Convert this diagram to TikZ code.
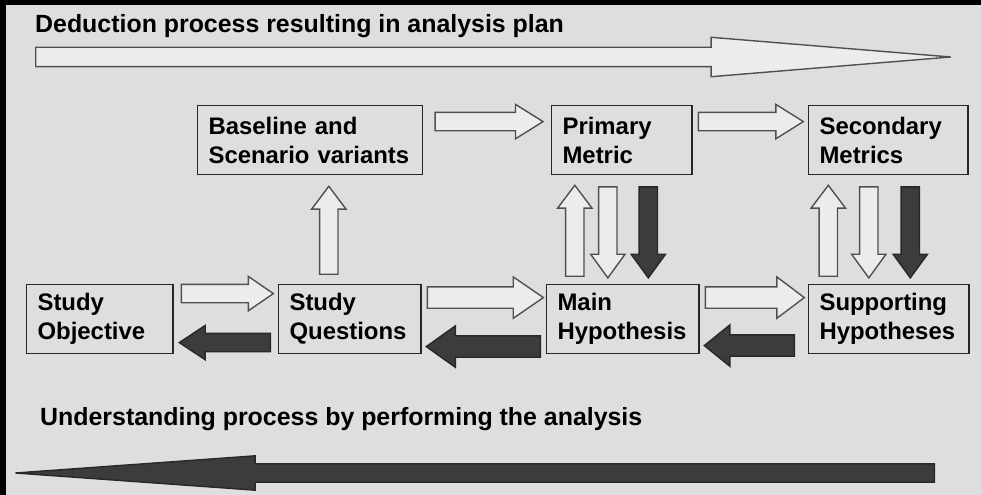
\documentclass[tikz,border=0pt]{standalone}
\usepackage{fontspec}
\setmainfont{Liberation Sans}
\usepackage{tikz}
\usetikzlibrary{shapes.arrows, positioning}

\definecolor{bg}{RGB}{222,222,222}
\definecolor{light}{RGB}{236,236,236}
\definecolor{lightedge}{RGB}{80,80,80}
\definecolor{dark}{RGB}{60,60,60}
\definecolor{darkedge}{RGB}{40,40,40}
\newcommand{\boxfont}{\fontsize{24}{29}\selectfont\bfseries}
\newcommand{\headfont}{\fontsize{25}{30}\selectfont\bfseries}

\begin{document}
\begin{tikzpicture}[x=1bp, y=1bp,
    block/.style = {draw=black!85, line width=1.2pt, fill=bg, align=left,
        anchor=north west, inner xsep=11pt, inner ysep=0pt,
        minimum height=69bp, text width=#1, font=\boxfont},
    heading/.style = {anchor=base west, inner sep=0pt, font=\headfont},
    fwd/.style = {single arrow, draw=lightedge, fill=light, line width=1.4pt,
        inner xsep=0pt, inner ysep=8.5bp, anchor=tail,
        single arrow head extend=8bp, minimum width=33bp,
        single arrow tip angle=70},
    bwd/.style = {fwd, draw=darkedge, fill=dark},
    wide/.style = {inner ysep=10bp, single arrow head extend=10bp, minimum width=40bp}]
    \fill[bg] (0,0) rectangle (981,-495);
    \useasboundingbox (0,0) rectangle (981,-495);
    \fill[black] (0,0) rectangle (981,-5);
    \fill[black] (0,0) rectangle (6,-495);

    % headings
    \node[heading] (deduction) at (35,-33) {Deduction process resulting in analysis plan};
    \node[heading] (understanding) at (40,-425) {Understanding process by performing the analysis};

    % boxes
    \node[block=204pt] (baseline) at (197,-105) {Baseline and\\Scenario variants};
    \node[block=119pt] (primary) at (551,-105) {Primary\\Metric};
    \node[block=138pt] (secondary) at (808,-105) {Secondary\\Metrics};
    \node[block=125pt] (objective) at (26,-284) {Study\\Objective};
    \node[block=121pt] (questions) at (278,-284) {Study\\Questions};
    \node[block=131pt] (main) at (546,-284) {Main\\Hypothesis};
    \node[block=139pt] (supporting) at (808,-284) {Supporting\\Hypotheses};

    % big process arrows
    \node[fwd, minimum height=915bp, inner ysep=9bp, minimum width=38bp,
        single arrow head extend=10bp, single arrow tip angle=9.4] (deduct)
        at ([yshift=-24bp]deduction.base west) {};
    \node[bwd, rotate=180, minimum height=919bp, single arrow tip angle=8.2] (understand)
        at ([xshift=895bp, yshift=-48bp]understanding.base west) {};

    % top row
    \node[fwd, minimum height=108bp, single arrow tip angle=64] (bp) at ([xshift=11bp, yshift=18.5bp]baseline.east) {};
    \node[fwd, minimum height=105bp, single arrow tip angle=64] (ps) at ([xshift=5bp, yshift=18.5bp]primary.east) {};

    % vertical arrows
    \node[fwd, rotate=90, minimum height=88bp, single arrow tip angle=74] (qb) at ([xshift=-21bp, yshift=9bp]questions.north) {};
    \node[fwd, rotate=90, minimum height=91bp, single arrow tip angle=74] (mp) at ([xshift=-48bp, yshift=7bp]main.north) {};
    \node[fwd, rotate=-90, minimum height=91bp, single arrow tip angle=72] (pm) at ([xshift=-14bp, yshift=-11bp]primary.south) {};
    \node[bwd, rotate=-90, minimum height=91bp, single arrow tip angle=72] (pmd) at ([xshift=26.5bp, yshift=-11bp]primary.south) {};
    \node[fwd, rotate=90, minimum height=91bp, single arrow tip angle=74] (sps) at ([xshift=-60.5bp, yshift=7bp]supporting.north) {};
    \node[fwd, rotate=-90, minimum height=91bp, single arrow tip angle=72] (ssp) at ([xshift=-19.5bp, yshift=-11bp]secondary.south) {};
    \node[bwd, rotate=-90, minimum height=91bp, single arrow tip angle=72] (sspd) at ([xshift=22bp, yshift=-11bp]secondary.south) {};

    % bottom row
    \node[fwd, minimum height=92bp, single arrow tip angle=69] (oq) at ([xshift=7bp, yshift=25.5bp]objective.east) {};
    \node[bwd, rotate=180, minimum height=91bp, single arrow tip angle=67] (qo) at ([xshift=-7bp, yshift=-23.5bp]questions.west) {};
    \node[fwd, wide, minimum height=116bp, single arrow tip angle=69] (qm) at ([xshift=5bp, yshift=21.5bp]questions.east) {};
    \node[bwd, wide, rotate=180, minimum height=114bp, single arrow tip angle=71] (mq) at ([xshift=-5bp, yshift=-27.5bp]main.west) {};
    \node[fwd, wide, minimum height=99bp, single arrow tip angle=74] (ms) at ([xshift=5bp, yshift=21.5bp]main.east) {};
    \node[bwd, wide, rotate=180, minimum height=90bp, single arrow tip angle=78] (sm) at ([xshift=-13bp, yshift=-26.5bp]supporting.west) {};
\end{tikzpicture}
\end{document}
